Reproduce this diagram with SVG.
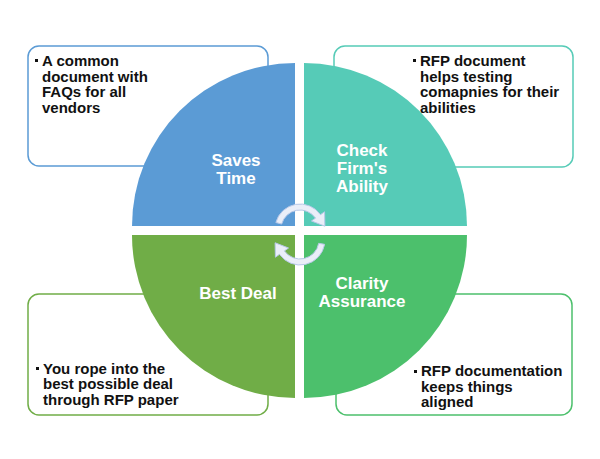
<svg xmlns="http://www.w3.org/2000/svg" width="600" height="459" viewBox="0 0 600 459">
<style>
.box{fill:#fff;stroke-width:1.5}
.lbl{font-family:"Liberation Sans",Arial,sans-serif;font-weight:bold;font-size:17px;fill:#fff;text-anchor:middle}
.txt{font-family:"Liberation Sans",Arial,sans-serif;font-weight:bold;font-size:15px;fill:#111}
.arr{fill:#eaeef8;stroke:#b7c8e8;stroke-width:1}
</style>
<rect width="600" height="459" fill="#fff"/>
<g id="box-tl"><rect class="box" x="28" y="46" width="240" height="120" rx="11" stroke="#5b9bd5"/>
<text class="txt"><tspan x="42" y="66">A common</tspan><tspan x="42" y="81.5">document with</tspan><tspan x="42" y="97">FAQs for all</tspan><tspan x="42" y="112.5">vendors</tspan></text></g>
<g id="box-tr"><rect class="box" x="334" y="46" width="239" height="121" rx="11" stroke="#56cbb7"/>
<text class="txt"><tspan x="420" y="66">RFP document</tspan><tspan x="420" y="81.5">helps testing</tspan><tspan x="420" y="97">comapnies for their</tspan><tspan x="420" y="112.5">abilities</tspan></text></g>
<g id="box-bl"><rect class="box" x="28" y="294" width="240" height="121" rx="11" stroke="#70ad47"/>
<text class="txt"><tspan x="43" y="373.5">You rope into the</tspan><tspan x="43" y="389">best possible deal</tspan><tspan x="43" y="404.5">through RFP paper</tspan></text></g>
<g id="box-br"><rect class="box" x="336" y="294" width="236" height="121" rx="11" stroke="#4cc06c"/>
<text class="txt"><tspan x="421" y="376">RFP documentation</tspan><tspan x="421" y="391.5">keeps things</tspan><tspan x="421" y="407">aligned</tspan></text></g>
<g id="bullets" fill="#111">
<rect x="35" y="59" width="3" height="3"/>
<rect x="413" y="59" width="3" height="3"/>
<rect x="36" y="367" width="3" height="3"/>
<rect x="414" y="370" width="3" height="3"/>
</g>
<g id="q-tl"><path d="M295,226 L132,226 A163,163 0 0 1 295,63 Z" fill="#5b9bd5"/>
<text class="lbl"><tspan x="236" y="166">Saves</tspan><tspan x="236" y="184">Time</tspan></text></g>
<g id="q-tr"><path d="M304,226 L304,63 A163,163 0 0 1 467,226 Z" fill="#56cbb7"/>
<text class="lbl"><tspan x="362" y="156">Check</tspan><tspan x="362" y="174">Firm's</tspan><tspan x="362" y="192">Ability</tspan></text></g>
<g id="q-bl"><path d="M295,235 L295,398 A163,163 0 0 1 132,235 Z" fill="#70ad47"/>
<text class="lbl"><tspan x="238" y="299">Best Deal</tspan></text></g>
<g id="q-br"><path d="M304,235 L467,235 A163,163 0 0 1 304,398 Z" fill="#4cc06c"/>
<text class="lbl"><tspan x="362" y="289">Clarity</tspan><tspan x="362" y="307">Assurance</tspan></text></g>
<g id="connectors">
<path class="arr" d="M275.85,222.53 A25,25 0 0 1 320.48,214.66 L324.58,211.79 L324.9,226.2 L311.47,220.97 L315.56,218.10 A19,19 0 0 0 281.65,224.08 Z"/>
<path class="arr" d="M324.62,244.34 A25,25 0 0 1 279.52,254.34 L275.42,257.21 L275.1,242.79 L288.53,248.03 L284.44,250.90 A19,19 0 0 0 318.71,243.30 Z"/>
</g>
</svg>
